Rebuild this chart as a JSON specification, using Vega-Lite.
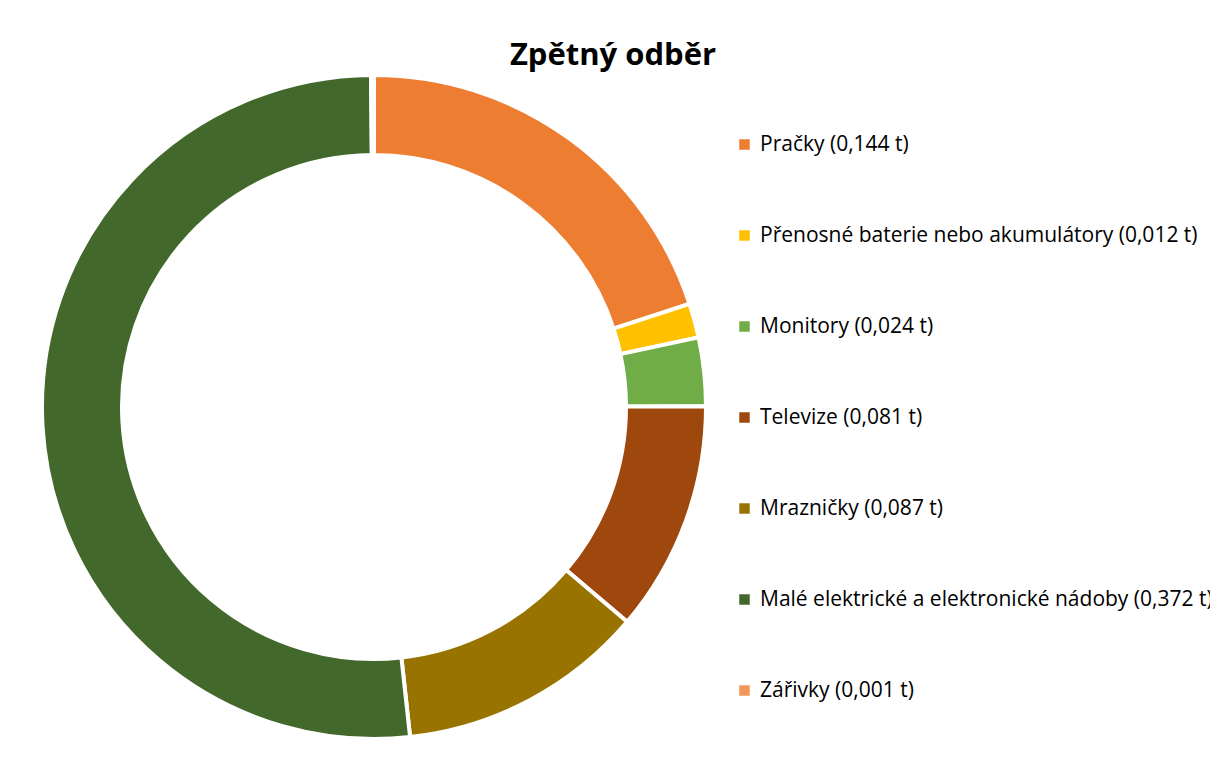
{
  "$schema": "https://vega.github.io/schema/vega-lite/v6.json",
  "autosize": "none",
  "width": 664,
  "height": 664,
  "padding": {"left": 42, "top": 75, "right": 504, "bottom": 37},
  "background": "white",
  "title": {
    "text": "Zpětný odběr",
    "font": "Open Sans",
    "fontSize": 31,
    "fontWeight": "bold",
    "color": "#000000",
    "anchor": "middle",
    "dx": 239,
    "offset": -5
  },
  "data": {
    "values": [
      {"label": "Pračky (0,144 t)", "value": 0.144, "order": 1},
      {"label": "Přenosné baterie nebo akumulátory (0,012 t)", "value": 0.012, "order": 2},
      {"label": "Monitory (0,024 t)", "value": 0.024, "order": 3},
      {"label": "Televize (0,081 t)", "value": 0.081, "order": 4},
      {"label": "Mrazničky (0,087 t)", "value": 0.087, "order": 5},
      {"label": "Malé elektrické a elektronické nádoby (0,372 t)", "value": 0.372, "order": 6},
      {"label": "Zářivky (0,001 t)", "value": 0.001, "order": 7}
    ]
  },
  "mark": {"type": "arc", "outerRadius": 332, "innerRadius": 252, "stroke": "white", "strokeWidth": 4},
  "encoding": {
    "theta": {"field": "value", "type": "quantitative", "stack": true},
    "order": {"field": "order", "type": "quantitative", "sort": "ascending"},
    "color": {
      "field": "label",
      "type": "nominal",
      "sort": null,
      "scale": {
        "domain": [
          "Pračky (0,144 t)",
          "Přenosné baterie nebo akumulátory (0,012 t)",
          "Monitory (0,024 t)",
          "Televize (0,081 t)",
          "Mrazničky (0,087 t)",
          "Malé elektrické a elektronické nádoby (0,372 t)",
          "Zářivky (0,001 t)"
        ],
        "range": ["#ED7D31", "#FFC000", "#70AD47", "#9E480E", "#997300", "#43682B", "#F1975A"]
      },
      "legend": {
        "title": null,
        "orient": "none",
        "legendX": 692,
        "legendY": 59,
        "symbolType": "square",
        "symbolSize": 110,
        "symbolStrokeWidth": 0,
        "labelFont": "Open Sans",
        "labelFontSize": 21,
        "labelColor": "#000000",
        "labelLimit": 700,
        "labelOffset": 5,
        "rowPadding": 69
      }
    }
  },
  "config": {"view": {"stroke": null}}
}
